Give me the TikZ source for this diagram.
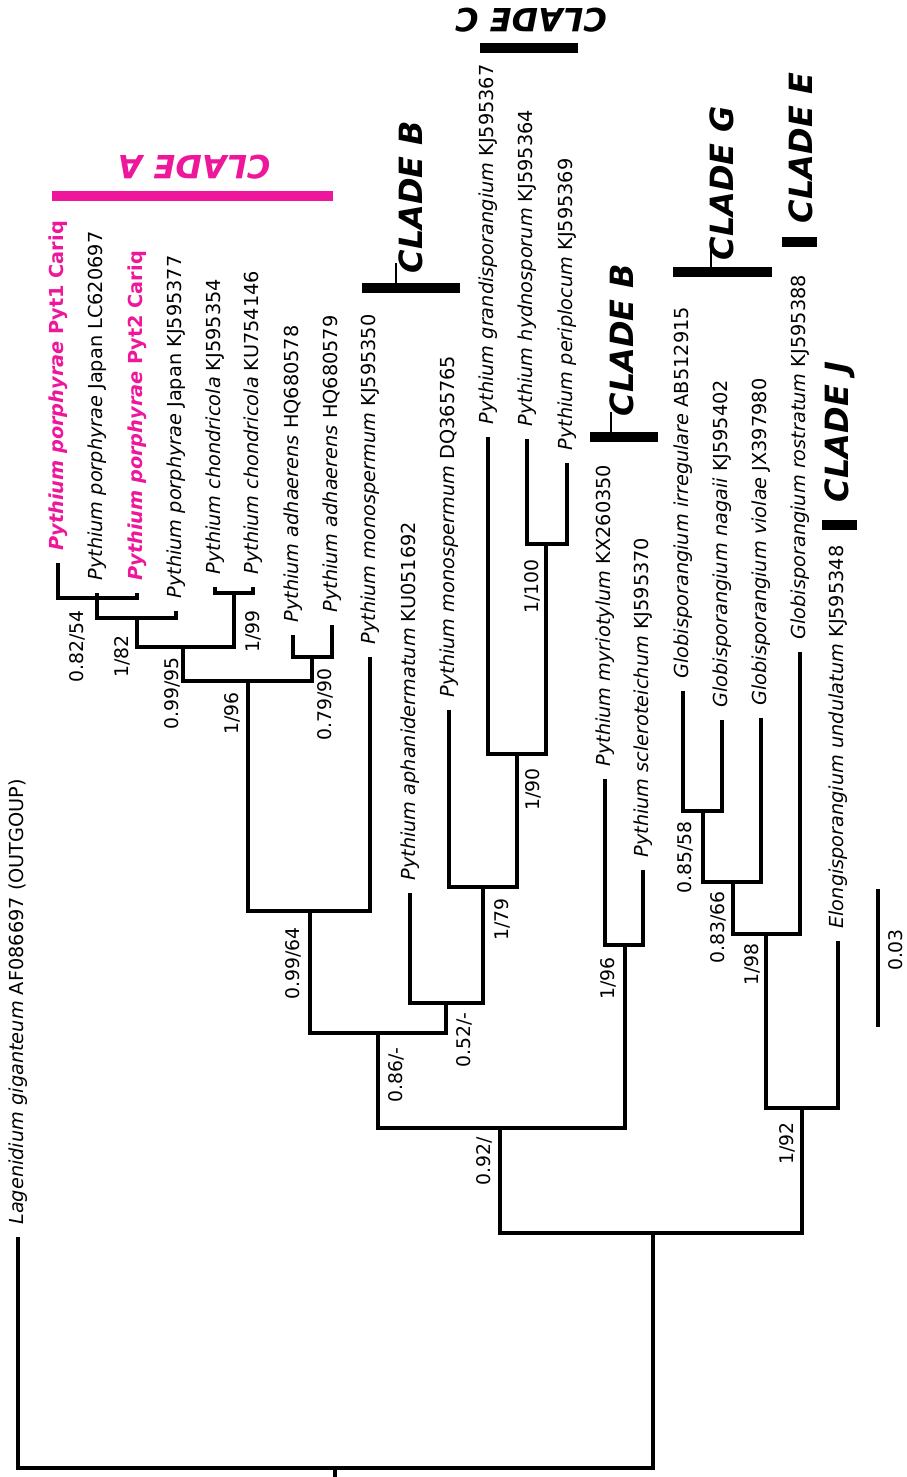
\documentclass[tikz,border=0pt]{standalone}
\usepackage{fontspec}
\setmainfont{DejaVu Sans}
\definecolor{cmag}{RGB}{238,22,155}
\newcommand\mytip[4]{\coordinate (#1) at (#2,#3); \node[tiplab] (#1l) at ([yshift=6pt]#1) {#4};}
\begin{document}
\begin{tikzpicture}[x=0.5pt,y=-0.5pt,
  br/.style={line width=1.6pt, line join=miter},
  tiplab/.style={rotate=90, anchor=west, inner sep=0pt, font=\fontsize{9.65}{11}\selectfont},
  supval/.style={rotate=90, anchor=east, inner sep=0pt, font=\fontsize{9.4}{11}\selectfont},
  cladetxt/.style={inner sep=0pt, font=\fontsize{16}{19}\selectfont\bfseries\itshape},
  cladebar/.style={line width=4.8pt},
  tick/.style={line width=1.3pt}]
\useasboundingbox (0,0) rectangle (906,1477);

% tips
\mytip{t0}{18}{1237}{\textit{Lagenidium giganteum} AF086697 (OUTGOUP)}
\mytip{t1}{58}{563}{\color{cmag}\bfseries\itshape Pythium porphyrae \upshape Pyt1 Cariq}
\mytip{t2}{97}{593}{\textit{Pythium porphyrae} Japan LC620697}
\mytip{t3}{137}{593}{\color{cmag}\bfseries\itshape Pythium porphyrae \upshape Pyt2 Cariq}
\mytip{t4}{176}{611}{\textit{Pythium porphyrae} Japan KJ595377}
\mytip{t5}{215}{587}{\textit{Pythium chondricola} KJ595354}
\mytip{t6}{253}{587}{\textit{Pythium chondricola} KU754146}
\mytip{t7}{293}{635}{\textit{Pythium adhaerens} HQ680578}
\mytip{t8}{332}{625}{\textit{Pythium adhaerens} HQ680579}
\mytip{t9}{370}{657}{\textit{Pythium monospermum} KJ595350}
\mytip{t10}{410}{893}{\textit{Pythium aphanidermatum} KU051692}
\mytip{t11}{449}{710}{\textit{Pythium monospermum} DQ365765}
\mytip{t12}{488}{437}{\textit{Pythium grandisporangium} KJ595367}
\mytip{t13}{527}{439}{\textit{Pythium hydnosporum} KJ595364}
\mytip{t14}{567}{463}{\textit{Pythium periplocum} KJ595369}
\mytip{t15}{605}{779}{\textit{Pythium myriotylum} KX260350}
\mytip{t16}{643}{870}{\textit{Pythium scleroteichum} KJ595370}
\mytip{t17}{683}{691}{\textit{Globisporangium irregulare} AB512915}
\mytip{t18}{722}{720}{\textit{Globisporangium nagaii} KJ595402}
\mytip{t19}{761}{718}{\textit{Globisporangium violae} JX397980}
\mytip{t20}{800}{652}{\textit{Globisporangium rostratum} KJ595388}
\mytip{t21}{838}{941}{\textit{Elongisporangium undulatum} KJ595348}

% internal nodes
\coordinate (n1) at (97,598);
\coordinate (n2) at (137,618);
\coordinate (n3) at (234,593);
\coordinate (n4) at (183,647);
\coordinate (n5) at (312,657);
\coordinate (n6) at (248,681);
\coordinate (n7) at (310,911);
\coordinate (n8) at (546,544);
\coordinate (n9) at (517,754);
\coordinate (n10) at (483,887);
\coordinate (n11) at (446,1003);
\coordinate (n12) at (378,1033);
\coordinate (n13) at (625,945);
\coordinate (n14) at (500,1128);
\coordinate (n15) at (703,811);
\coordinate (n16) at (733,882);
\coordinate (n17) at (766,934);
\coordinate (n18) at (802,1108);
\coordinate (n19) at (653,1233);
\coordinate (root) at (335,1468);
\coordinate (rootbase) at (335,1477);

% branches
\draw[br] (t1) |- (n1) -| (t3);
\draw[br] (t2) -- (n1);
\draw[br] (n1) |- (n2) -| (t4);
\draw[br] (t5) |- (n3) -| (t6);
\draw[br] (n2) |- (n4) -| (n3);
\draw[br] (t7) |- (n5) -| (t8);
\draw[br] (n4) |- (n6) -| (n5);
\draw[br] (n6) |- (n7) -| (t9);
\draw[br] (t13) |- (n8) -| (t14);
\draw[br] (t12) |- (n9) -| (n8);
\draw[br] (t11) |- (n10) -| (n9);
\draw[br] (t10) |- (n11) -| (n10);
\draw[br] (n7) |- (n12) -| (n11);
\draw[br] (t15) |- (n13) -| (t16);
\draw[br] (n12) |- (n14) -| (n13);
\draw[br] (t17) |- (n15) -| (t18);
\draw[br] (n15) |- (n16) -| (t19);
\draw[br] (n16) |- (n17) -| (t20);
\draw[br] (n17) |- (n18) -| (t21);
\draw[br] (n14) |- (n19) -| (n18);
\draw[br] (t0) |- (root) -| (n19);
\draw[br] (root) -- (rootbase);

% support values
\node[supval] (s1) at (77,610) {0.82/54};
\node[supval] (s2) at (122,635) {1/82};
\node[supval] (s3) at (172,657) {0.99/95};
\node[supval] (s4) at (232,692) {1/96};
\node[supval] (s5) at (253,610) {1/99};
\node[supval] (s6) at (325,668) {0.79/90};
\node[supval] (s7) at (293,927) {0.99/64};
\node[supval] (s8) at (396,1047) {0.86/-};
\node[supval] (s9) at (464,1012) {0.52/-};
\node[supval] (s10) at (532,559) {1/100};
\node[supval] (s11) at (533,768) {1/90};
\node[supval] (s12) at (502,898) {1/79};
\node[supval] (s13) at (608,957) {1/96};
\node[supval] (s14) at (484,1137) {0.92/};
\node[supval] (s15) at (685,821) {0.85/58};
\node[supval] (s16) at (718,891) {0.83/66};
\node[supval] (s17) at (752,943) {1/98};
\node[supval] (s18) at (787,1122) {1/92};

% scale bar
\coordinate (sb1) at (878,889);
\coordinate (sb2) at (878,1027);
\draw[br] (sb1) -- (sb2);
\node[supval, anchor=center] (sbl) at (896,950) {0.03};

% clade marks
\draw[cladebar, cmag] (52,196) -- (333,196);
\node[cladetxt, text=cmag, rotate=180] (cA) at (194,167) {CLADE A};

\draw[cladebar] (480,48) -- (578,48);
\node[cladetxt, rotate=180] (cC) at (531,20) {CLADE C};

\draw[cladebar] (362,288) -- (460,288);
\draw[tick] (396,263) -- (396,288);
\node[cladetxt, rotate=90] (cB1) at (411,197) {CLADE B};

\draw[cladebar] (590,437) -- (658,437);
\draw[tick] (611,412) -- (611,437);
\node[cladetxt, rotate=90] (cB2) at (622,340) {CLADE B};

\draw[cladebar] (673,272) -- (772,272);
\draw[tick] (711,247) -- (711,272);
\node[cladetxt, rotate=90] (cG) at (722,183) {CLADE G};

\draw[cladebar] (782,242) -- (817,242);
\node[cladetxt, rotate=90] (cE) at (801,148) {CLADE E};

\draw[cladebar] (822,525) -- (857,525);
\node[cladetxt, rotate=90] (cJ) at (840,432) {CLADE J};
\end{tikzpicture}
\end{document}
